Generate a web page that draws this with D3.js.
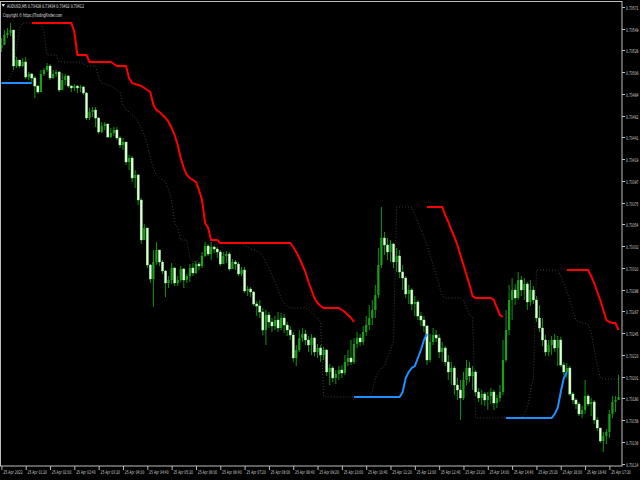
<!DOCTYPE html>
<html><head><meta charset="utf-8">
<script src="https://cdn.jsdelivr.net/npm/d3@7/dist/d3.min.js"></script>
<style>html,body{margin:0;padding:0;background:#000;}svg{display:block;}</style>
</head><body>
<svg id="c" width="640" height="480"></svg>
<script>
// ---------- DATA ----------
const symbolTitle = "AUDUSD,M5  0.73428 0.73434 0.73402 0.73412";
const copyrightText = "Copyright \u00A9 https://TradingFinder.com";
const timeLabels = ["25 Apr 2022","25 Apr 01:20","25 Apr 02:00","25 Apr 02:40","25 Apr 03:20","25 Apr 04:00","25 Apr 04:40","25 Apr 05:20","25 Apr 06:00","25 Apr 06:40","25 Apr 07:20","25 Apr 08:00","25 Apr 08:40","25 Apr 09:20","25 Apr 10:00","25 Apr 10:40","25 Apr 11:20","25 Apr 12:00","25 Apr 12:40","25 Apr 13:20","25 Apr 14:00","25 Apr 14:40","25 Apr 15:20","25 Apr 16:00","25 Apr 16:40","25 Apr 17:20"];
const timeLabelBars = [0,8,16,24,32,40,48,56,64,72,80,88,96,104,112,120,128,136,144,152,160,168,176,184,192,200];
const priceTicks = [0.73571,0.73549,0.73528,0.73506,0.73484,0.73462,0.73441,0.73419,0.73397,0.73375,0.73354,0.73332,0.73310,0.73288,0.73267,0.73245,0.73223,0.73201,0.73180,0.73158,0.73136,0.73114];

const firstOpen = 0.73530;
const closes = [0.73533,0.73543,0.73545,0.73548,0.73512,0.73518,0.73512,0.73516,0.73501,0.73504,
0.73500,0.73492,0.73486,0.73504,0.73508,0.73512,0.73500,0.73504,0.73506,0.73488,
0.73498,0.73502,0.73492,0.73490,0.73492,0.73490,0.73491,0.73485,0.73460,0.73466,
0.73468,0.73460,0.73446,0.73452,0.73454,0.73441,0.73445,0.73448,0.73440,0.73433,
0.73436,0.73416,0.73420,0.73400,0.73403,0.73378,0.73338,0.73350,0.73313,0.73299,
0.73316,0.73328,0.73316,0.73307,0.73295,0.73298,0.73310,0.73295,0.73298,0.73309,
0.73298,0.73302,0.73310,0.73305,0.73314,0.73312,0.73322,0.73332,0.73324,0.73331,
0.73329,0.73326,0.73314,0.73322,0.73324,0.73309,0.73316,0.73314,0.73304,0.73308,
0.73287,0.73289,0.73286,0.73274,0.73272,0.73266,0.73248,0.73263,0.73256,0.73252,
0.73258,0.73250,0.73260,0.73253,0.73248,0.73243,0.73220,0.73228,0.73240,0.73244,
0.73238,0.73233,0.73240,0.73226,0.73230,0.73223,0.73228,0.73206,0.73210,0.73200,
0.73204,0.73208,0.73205,0.73216,0.73220,0.73216,0.73234,0.73240,0.73236,0.73246,
0.73253,0.73260,0.73268,0.73283,0.73313,0.73340,0.73333,0.73326,0.73334,0.73316,
0.73322,0.73306,0.73300,0.73284,0.73288,0.73274,0.73276,0.73262,0.73258,0.73252,
0.73218,0.73236,0.73243,0.73240,0.73226,0.73230,0.73216,0.73206,0.73210,0.73193,
0.73188,0.73180,0.73198,0.73210,0.73202,0.73206,0.73186,0.73180,0.73184,0.73178,
0.73182,0.73186,0.73175,0.73180,0.73186,0.73218,0.73248,0.73278,0.73288,0.73280,
0.73298,0.73288,0.73294,0.73276,0.73288,0.73278,0.73260,0.73250,0.73238,0.73226,
0.73233,0.73238,0.73230,0.73238,0.73213,0.73206,0.73210,0.73184,0.73178,0.73174,
0.73164,0.73168,0.73182,0.73174,0.73176,0.73158,0.73150,0.73137,0.73142,0.73146,
0.73164,0.73176,0.73178,0.73181];
const highs = [0.73540,0.73548,0.73550,0.73555,0.73548,0.73521,0.73518,0.73520,0.73521,0.73506,
0.73505,0.73502,0.73493,0.73508,0.73510,0.73515,0.73514,0.73508,0.73508,0.73507,
0.73505,0.73504,0.73503,0.73493,0.73494,0.73493,0.73493,0.73492,0.73486,0.73470,
0.73471,0.73471,0.73461,0.73456,0.73456,0.73454,0.73450,0.73451,0.73451,0.73442,
0.73440,0.73436,0.73423,0.73422,0.73408,0.73404,0.73380,0.73354,0.73350,0.73314,
0.73328,0.73336,0.73328,0.73318,0.73308,0.73302,0.73315,0.73311,0.73302,0.73312,
0.73310,0.73304,0.73314,0.73315,0.73317,0.73316,0.73326,0.73336,0.73334,0.73336,
0.73332,0.73331,0.73328,0.73326,0.73327,0.73326,0.73319,0.73318,0.73316,0.73311,
0.73311,0.73292,0.73291,0.73287,0.73277,0.73278,0.73270,0.73268,0.73266,0.73260,
0.73262,0.73266,0.73265,0.73264,0.73256,0.73252,0.73246,0.73233,0.73248,0.73250,
0.73248,0.73242,0.73244,0.73241,0.73234,0.73233,0.73231,0.73229,0.73214,0.73212,
0.73208,0.73212,0.73213,0.73223,0.73228,0.73238,0.73240,0.73246,0.73244,0.73252,
0.73262,0.73273,0.73278,0.73293,0.73330,0.73371,0.73346,0.73340,0.73338,0.73335,
0.73330,0.73328,0.73313,0.73302,0.73293,0.73290,0.73282,0.73278,0.73266,0.73262,
0.73253,0.73244,0.73250,0.73248,0.73244,0.73236,0.73232,0.73223,0.73216,0.73212,
0.73200,0.73198,0.73206,0.73218,0.73216,0.73212,0.73208,0.73190,0.73188,0.73186,
0.73186,0.73190,0.73188,0.73183,0.73193,0.73238,0.73268,0.73293,0.73300,0.73294,
0.73306,0.73302,0.73300,0.73296,0.73298,0.73292,0.73282,0.73273,0.73260,0.73243,
0.73238,0.73242,0.73244,0.73242,0.73241,0.73216,0.73215,0.73212,0.73186,0.73180,
0.73176,0.73172,0.73198,0.73184,0.73180,0.73178,0.73161,0.73150,0.73146,0.73149,
0.73168,0.73182,0.73182,0.73203];
const lows = [0.73526,0.73533,0.73540,0.73542,0.73508,0.73510,0.73510,0.73511,0.73499,0.73498,
0.73496,0.73480,0.73484,0.73486,0.73502,0.73506,0.73498,0.73499,0.73501,0.73486,
0.73488,0.73493,0.73490,0.73486,0.73487,0.73485,0.73486,0.73483,0.73458,0.73458,
0.73461,0.73451,0.73444,0.73445,0.73448,0.73440,0.73440,0.73442,0.73438,0.73430,
0.73428,0.73413,0.73408,0.73396,0.73390,0.73373,0.73334,0.73338,0.73310,0.73295,
0.73271,0.73313,0.73312,0.73304,0.73281,0.73290,0.73294,0.73292,0.73292,0.73296,
0.73290,0.73295,0.73296,0.73302,0.73304,0.73308,0.73310,0.73321,0.73322,0.73318,
0.73325,0.73320,0.73312,0.73316,0.73315,0.73307,0.73310,0.73308,0.73302,0.73302,
0.73285,0.73282,0.73281,0.73272,0.73262,0.73260,0.73243,0.73233,0.73250,0.73246,
0.73248,0.73246,0.73248,0.73245,0.73242,0.73238,0.73216,0.73212,0.73226,0.73236,
0.73233,0.73226,0.73223,0.73222,0.73220,0.73216,0.73218,0.73202,0.73193,0.73196,
0.73194,0.73198,0.73200,0.73203,0.73212,0.73213,0.73214,0.73230,0.73232,0.73233,
0.73242,0.73248,0.73253,0.73260,0.73280,0.73310,0.73323,0.73318,0.73316,0.73310,
0.73306,0.73300,0.73288,0.73280,0.73274,0.73268,0.73262,0.73258,0.73252,0.73246,
0.73213,0.73216,0.73233,0.73236,0.73220,0.73216,0.73212,0.73198,0.73193,0.73183,
0.73178,0.73158,0.73178,0.73193,0.73196,0.73188,0.73182,0.73176,0.73173,0.73172,
0.73168,0.73174,0.73168,0.73170,0.73176,0.73183,0.73216,0.73243,0.73258,0.73273,
0.73278,0.73282,0.73278,0.73268,0.73272,0.73274,0.73256,0.73246,0.73232,0.73222,
0.73222,0.73223,0.73226,0.73212,0.73211,0.73203,0.73200,0.73182,0.73174,0.73169,
0.73162,0.73160,0.73164,0.73172,0.73162,0.73154,0.73147,0.73135,0.73126,0.73134,
0.73140,0.73160,0.73166,0.73178];

// upper (red) step line segments: first bar index + values
const redSegments = [
 {start:10, values:[0.73555,0.73555,0.73555,0.73555,0.73555,0.73555,0.73555,0.73555,0.73555,0.73555,0.73555,0.73555,0.73555,0.73555,
  0.73546,0.73523,0.73523,0.73523,0.73523,0.73516,0.73516,0.73516,0.73516,0.73516,0.73516,0.73516,0.73516,0.73514,
  0.73512,0.73512,0.73512,0.73512,0.73500,0.73495,0.73494,0.73493,0.73492,0.73490,0.73488,0.73486,0.73473,0.73468,
  0.73466,0.73463,0.73460,0.73456,0.73450,0.73443,0.73433,0.73420,0.73410,0.73403,0.73400,0.73398,0.73396,0.73388,
  0.73378,0.73355,0.73350,0.73338,0.73338,0.73338,
  0.73335,0.73335,0.73335,0.73335,0.73335,0.73335,0.73335,0.73335,0.73335,0.73335,0.73335,0.73335,
  0.73335,0.73335,0.73335,0.73335,0.73335,0.73335,0.73335,0.73335,0.73335,0.73335,0.73335,0.73335,
  0.73331,0.73326,0.73320,0.73313,0.73306,0.73296,0.73288,0.73280,0.73275,0.73272,
  0.73270,0.73270,0.73270,0.73270,0.73270,0.73270,0.73268,0.73266,0.73263,0.73260,0.73256]},
 {start:140, values:[0.73371,0.73371,0.73371,0.73371,0.73371,0.73371,0.73363,0.73356,0.73348,0.73341,0.73333,0.73323,
  0.73313,0.73303,0.73293,0.73282,0.73280,0.73280,0.73280,0.73280,0.73280,0.73280,0.73278,0.73270,0.73263,0.73261]},
 {start:186, values:[0.73308,0.73308,0.73308,0.73308,0.73308,0.73308,0.73308,0.73308,0.73302,0.73295,0.73286,0.73278,
  0.73268,0.73258,0.73256,0.73255,0.73255,0.73248]}
];
// lower (blue) step line segments
const blueSegments = [
 {start:0, values:[0.73495,0.73495,0.73495,0.73495,0.73495,0.73495,0.73495,0.73495,0.73495,0.73495,0.73495]},
 {start:116, values:[0.73181,0.73181,0.73181,0.73181,0.73181,0.73181,0.73181,0.73181,0.73181,0.73181,0.73181,0.73181,
  0.73181,0.73181,0.73181,0.73181,0.73186,0.73200,0.73206,0.73210,0.73212,0.73220,0.73228,0.73238,0.73244]},
 {start:166, values:[0.73160,0.73160,0.73160,0.73160,0.73160,0.73160,0.73160,0.73160,0.73160,0.73160,0.73160,0.73160,
  0.73160,0.73160,0.73160,0.73160,0.73164,0.73170,0.73186,0.73200,0.73206]}
];
// dotted (unshifted) trailing line, one continuous segment
const dotSegments = [
 {start:2, values:[0.73495,0.73502,0.73510,0.73530,0.73550,
  0.73555,0.73555,0.73555,0.73555,0.73555,0.73555,0.73555,
  0.73546,
  0.73523,0.73523,0.73523,0.73523,
  0.73516,0.73516,0.73516,0.73516,0.73516,0.73516,0.73516,0.73516,
  0.73514,
  0.73512,0.73512,0.73512,0.73512,
  0.73500,0.73495,0.73494,0.73493,0.73492,0.73490,0.73488,0.73486,0.73473,0.73468,
  0.73466,0.73463,0.73460,0.73456,0.73450,0.73443,0.73433,0.73420,0.73410,0.73403,
  0.73400,0.73398,0.73396,0.73388,0.73378,0.73355,0.73350,0.73338,0.73338,0.73338,
  0.73320,0.73316,0.73316,0.73320,0.73323,0.73328,0.73330,0.73332,0.73333,0.73334,
  0.73335,0.73335,0.73335,0.73335,0.73335,0.73335,0.73335,
  0.73334,0.73332,0.73331,0.73329,0.73328,0.73327,0.73326,
  0.73322,0.73316,0.73310,0.73303,0.73296,0.73288,0.73280,0.73275,0.73272,
  0.73270,0.73270,0.73270,0.73270,0.73270,0.73270,
  0.73268,0.73266,0.73263,0.73260,0.73256,
  0.73181,0.73181,0.73181,0.73181,0.73181,0.73181,0.73181,0.73181,0.73181,0.73181,0.73181,0.73181,0.73181,0.73181,0.73181,0.73181,
  0.73186,0.73200,0.73206,0.73210,0.73212,0.73220,0.73228,0.73238,
  0.73371,0.73371,0.73371,0.73371,0.73371,0.73371,
  0.73363,0.73356,0.73348,0.73341,0.73333,0.73323,0.73313,0.73303,0.73293,0.73282,
  0.73280,0.73280,0.73280,0.73280,0.73280,0.73280,
  0.73278,0.73270,0.73263,0.73261,
  0.73160,0.73160,0.73160,0.73160,0.73160,0.73160,0.73160,0.73160,0.73160,0.73160,0.73160,0.73160,0.73160,0.73160,0.73160,0.73160,
  0.73164,0.73170,0.73186,0.73200,
  0.73308,0.73308,0.73308,0.73308,0.73308,0.73308,0.73308,0.73308,
  0.73302,0.73295,0.73286,0.73278,0.73268,0.73258,0.73256,0.73255,0.73255,0.73253,0.73246,0.73228,0.73213,0.73200,
  0.73199,0.73199,0.73199,0.73199,0.73199,0.73199]}
];

// ---------- DRAW ----------
const svg = d3.select("#c");
const W = 640, H = 480;
const plotL = 0, plotR = 622, plotT = 2, plotB = 466;
svg.append("rect").attr("width", W).attr("height", H).attr("fill", "#000");

const n = closes.length;
const x = d3.scaleLinear().domain([0, n - 1]).range([1.4, 1.4 + (n - 1) * 3.04]);
const y = d3.scaleLinear().domain([0.73578 - 0.00480, 0.73578]).range([480, 0]);

svg.append("defs").append("clipPath").attr("id", "clip")
  .append("rect").attr("x", plotL).attr("y", plotT).attr("width", plotR - plotL).attr("height", plotB - plotT);
const plot = svg.append("g").attr("clip-path", "url(#clip)");

const bars = closes.map((c, i) => ({ i, o: i === 0 ? firstOpen : closes[i - 1], h: highs[i], l: lows[i], c }));

const segLine = d3.line().x(d => x(d[0])).y(d => y(d[1]));
const toPts = s => s.values.map((v, k) => [s.start + k, v]);

// dotted line (behind candles)
plot.selectAll(".dot").data(dotSegments).join("path")
  .attr("d", s => segLine(toPts(s)))
  .attr("fill", "none").attr("stroke", "#3e3e3e").attr("stroke-width", 1)
  .attr("stroke-dasharray", "1,2");

// wicks
plot.selectAll(".wick").data(bars).join("line")
  .attr("x1", d => x(d.i)).attr("x2", d => x(d.i))
  .attr("y1", d => y(d.h)).attr("y2", d => y(d.l))
  .attr("stroke", "#0e940e").attr("stroke-width", 1);

// bodies
plot.selectAll(".body").data(bars).join("rect")
  .attr("x", d => x(d.i) - 1.1)
  .attr("width", 2.2)
  .attr("y", d => y(Math.max(d.o, d.c)))
  .attr("height", d => Math.max(1, Math.abs(y(d.o) - y(d.c))))
  .attr("fill", d => d.c < d.o ? "#e4ffdc" : "#19a019")
  .attr("stroke", d => d.c < d.o ? "#8ee88e" : "none")
  .attr("stroke-width", 0.4);

// red & blue lines
plot.selectAll(".red").data(redSegments).join("path")
  .attr("d", s => segLine(toPts(s)))
  .attr("fill", "none").attr("stroke", "#ff0000").attr("stroke-width", 2);
plot.selectAll(".blue").data(blueSegments).join("path")
  .attr("d", s => segLine(toPts(s)))
  .attr("fill", "none").attr("stroke", "#1e90ff").attr("stroke-width", 2);

// frame
svg.append("rect").attr("x", plotL + 0.5).attr("y", plotT - 0.5).attr("width", plotR - plotL - 0.5).attr("height", plotB - plotT + 0.5)
  .attr("fill", "none").attr("stroke", "#bdbdbd").attr("stroke-width", 1);

const FONT = "DejaVu Sans, Liberation Sans, sans-serif";
// squeeze a text horizontally to a target width (keeps real text, like the tiny chart font)
function squeeze(sel, tx, ty, target) {
  sel.each(function () {
    const w = this.getComputedTextLength();
    const s = w > 0 ? target / w : 1;
    d3.select(this).attr("x", 0).attr("y", 0).attr("transform", `translate(${tx},${ty}) scale(${s},1)`);
  });
}

// bottom axis
const xAxis = d3.axisBottom(x).tickValues(timeLabelBars)
  .tickFormat((d, k) => timeLabels[k]).tickSize(4).tickSizeOuter(0);
const gx = svg.append("g").attr("transform", `translate(0,${plotB})`).call(xAxis);
gx.select(".domain").remove();
gx.selectAll(".tick line").attr("stroke", "#bdbdbd");
gx.selectAll(".tick text").attr("text-anchor", "start").attr("dy", null)
  .attr("fill", "#d0d0d0").style("font-family", FONT).style("font-size", "5.2px")
  .call(squeeze, 1.3, 8, 19.5);

// right axis
const yAxis = d3.axisRight(y).tickValues(priceTicks).tickFormat(d3.format(".5f")).tickSize(3).tickSizeOuter(0);
const gy = svg.append("g").attr("transform", `translate(${plotR},0)`).call(yAxis);
gy.select(".domain").remove();
gy.selectAll(".tick line").attr("stroke", "#bdbdbd");
gy.selectAll(".tick text").attr("dy", null).attr("fill", "#d0d0d0")
  .style("font-family", FONT).style("font-size", "5.2px")
  .call(squeeze, 4, 2, 12.5);

// header texts
svg.append("path").attr("d", "M1.5,4 L5,4 L3.25,7 Z").attr("fill", "#e0e0e0");
svg.append("text").text(symbolTitle)
  .attr("fill", "#e0e0e0").style("font-family", FONT).style("font-size", "5.2px")
  .call(squeeze, 7, 7.6, 77);
svg.append("text").text(copyrightText)
  .attr("fill", "#e0e0e0").style("font-family", FONT).style("font-size", "5.2px")
  .call(squeeze, 3, 16.5, 59);
</script>
</body></html>
